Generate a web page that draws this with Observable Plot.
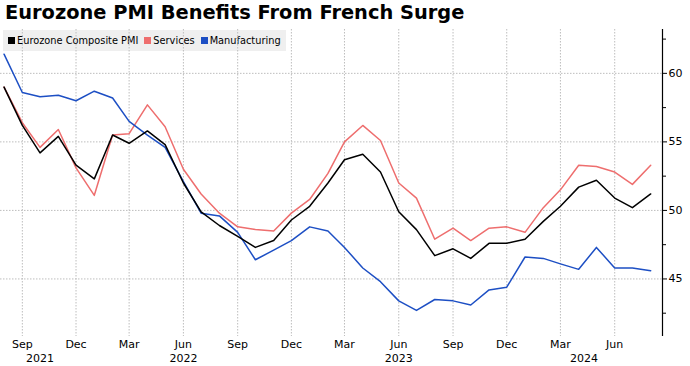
<!DOCTYPE html>
<html>
<head>
<meta charset="utf-8">
<script src="https://cdn.jsdelivr.net/npm/d3@7"></script>
<script src="https://cdn.jsdelivr.net/npm/@observablehq/plot@0.6"></script>
<style>
  html, body { margin: 0; padding: 0; background: #fff; }
  body { width: 690px; height: 366px; overflow: hidden; position: relative; font-family: "DejaVu Sans", sans-serif; }
  #title { position: absolute; left: 5px; top: 1px; font: bold 19.4px "DejaVu Sans", sans-serif; color: #000; white-space: nowrap; }
  #chart { position: absolute; left: 0; top: 28px; }
  #legend { position: absolute; left: 3px; top: 30px; height: 21px; background: #efefef; display: flex; align-items: center; padding: 0 5px 0 5px; font-size: 9.8px; color: #000; white-space: nowrap; }
  #legend .item { display: flex; align-items: center; margin-right: 6px; }
  #legend .item:last-child { margin-right: 0; }
  #legend .sw { width: 7px; height: 7px; margin-right: 2px; display: inline-block; }
</style>
</head>
<body>
<div id="title">Eurozone PMI Benefits From French Surge</div>
<div id="legend"></div>
<div id="chart"></div>
<script>
const months = ["2021-08","2021-09","2021-10","2021-11","2021-12",
  "2022-01","2022-02","2022-03","2022-04","2022-05","2022-06","2022-07","2022-08","2022-09","2022-10","2022-11","2022-12",
  "2023-01","2023-02","2023-03","2023-04","2023-05","2023-06","2023-07","2023-08","2023-09","2023-10","2023-11","2023-12",
  "2024-01","2024-02","2024-03","2024-04","2024-05","2024-06","2024-07","2024-08"];
const composite = [59.0,56.2,54.2,55.4,53.3,52.3,55.5,54.9,55.8,54.8,52.0,49.9,48.9,48.1,47.3,47.8,49.3,50.3,52.0,53.7,54.1,52.8,49.9,48.6,46.7,47.2,46.5,47.6,47.6,47.9,49.2,50.3,51.7,52.2,50.9,50.2,51.2];
const services = [59.0,56.4,54.6,55.9,53.1,51.1,55.5,55.6,57.7,56.1,53.0,51.2,49.8,48.8,48.6,48.5,49.8,50.8,52.7,55.0,56.2,55.1,52.0,50.9,47.9,48.7,47.8,48.7,48.8,48.4,50.2,51.5,53.3,53.2,52.8,51.9,53.3];
const manufacturing = [61.4,58.6,58.3,58.4,58.0,58.7,58.2,56.5,55.5,54.6,52.1,49.8,49.6,48.4,46.4,47.1,47.8,48.8,48.5,47.3,45.8,44.8,43.4,42.7,43.5,43.4,43.1,44.2,44.4,46.6,46.5,46.1,45.7,47.3,45.8,45.8,45.6];
const seriesNames = ["Eurozone Composite PMI", "Services", "Manufacturing"];
const seriesColors = ["#000000", "#ee6e6e", "#1d4fc4"];
const xTickMonths = ["2021-09","2021-12","2022-03","2022-06","2022-09","2022-12","2023-03","2023-06","2023-09","2023-12","2024-03","2024-06"];
const yTicks = [45, 50, 55, 60];
const yMinorTicks = [42.5, 47.5, 52.5, 57.5, 62.5];
const yearLabels = ["2021", "2022", "2023", "2024"];
const yearAnchors = ["2021-10-01", "2022-06-01", "2023-06-01", "2024-04-10"];

const parse = s => new Date(s.length === 7 ? s + "-01T00:00:00Z" : s + "T00:00:00Z");
const valuesBySeries = [composite, services, manufacturing];
const rows = s => months.map((m, i) => ({date: parse(m), value: valuesBySeries[s][i]}));
const xDomain = [parse("2021-07-26"), parse("2024-08-21")];
const yDomain = [40.8, 63.2];
const years = yearLabels.map((t, i) => ({date: parse(yearAnchors[i]), label: t}));
const xTicks = xTickMonths.map(parse);

const gridStyle = {stroke: "#bdbdbd", strokeOpacity: 1, strokeDasharray: "1.5,1.5", strokeWidth: 1};

const chart = Plot.plot({
  width: 690,
  height: 338,
  marginTop: 1,
  marginBottom: 30,
  marginLeft: 0,
  marginRight: 28,
  x: {type: "utc", domain: xDomain, label: null},
  y: {domain: yDomain, label: null},
  style: {fontFamily: "DejaVu Sans, sans-serif", fontSize: "11px", color: "#000", background: "transparent", overflow: "visible"},
  marks: [
    Plot.gridY(yTicks, gridStyle),
    Plot.gridX(xTicks, gridStyle),
    Plot.ruleX([xDomain[1]], {stroke: "#000", strokeWidth: 1.2}),
    Plot.axisY(yTicks, {anchor: "right", tickSize: 4, tickPadding: 2, tickFormat: d => String(d), label: null, fontSize: 11}),
    Plot.axisY(yMinorTicks, {anchor: "right", tickSize: 3, tickFormat: () => "", label: null}),
    Plot.axisX(xTicks, {anchor: "bottom", tickSize: 0, tickPadding: 4, tickFormat: d3.utcFormat("%b"), label: null, fontSize: 11}),
    Plot.text(years, {x: "date", text: "label", frameAnchor: "bottom", dy: 25, fontSize: 11}),
    Plot.line(rows(1), {x: "date", y: "value", stroke: seriesColors[1], strokeWidth: 1.5}),
    Plot.line(rows(2), {x: "date", y: "value", stroke: seriesColors[2], strokeWidth: 1.5}),
    Plot.line(rows(0), {x: "date", y: "value", stroke: seriesColors[0], strokeWidth: 1.5})
  ]
});
document.getElementById("chart").appendChild(chart);

const legend = document.getElementById("legend");
seriesNames.forEach((name, i) => {
  const item = document.createElement("span");
  item.className = "item";
  const sw = document.createElement("span");
  sw.className = "sw";
  sw.style.background = seriesColors[i];
  item.appendChild(sw);
  item.appendChild(document.createTextNode(name));
  legend.appendChild(item);
});
</script>
</body>
</html>
